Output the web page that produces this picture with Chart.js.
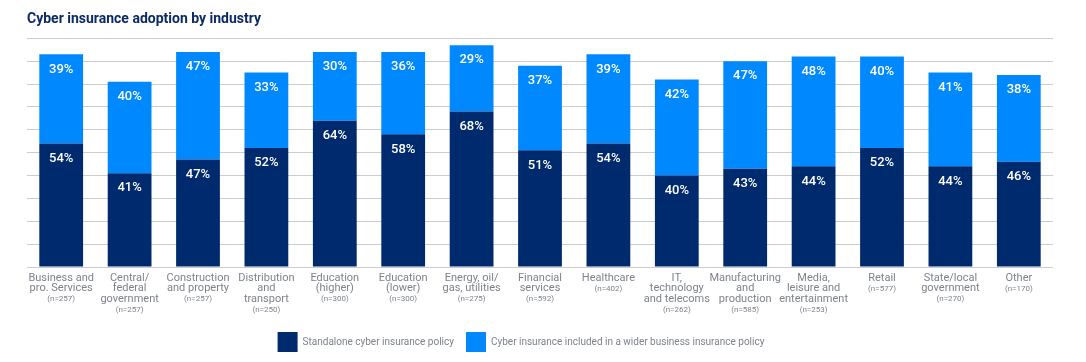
<!DOCTYPE html>
<html>
<head>
<meta charset="utf-8">
<script src="https://cdn.jsdelivr.net/npm/chart.js@4.4.1/dist/chart.umd.min.js"></script>
<style>
  html, body { margin: 0; padding: 0; background: #fff; }
  #wrap { width: 1086px; height: 362px; }
</style>
</head>
<body>
<div id="wrap"><canvas id="chart"></canvas></div>
<script>
// Categories (each label split into its printed lines) and sample sizes
const industries = [
    ['Business and', 'pro. Services'],
    ['Central/', 'federal', 'government'],
    ['Construction', 'and property'],
    ['Distribution', 'and', 'transport'],
    ['Education', '(higher)'],
    ['Education', '(lower)'],
    ['Energy, oil/', 'gas, utilities'],
    ['Financial', 'services'],
    ['Healthcare'],
    ['IT,', 'technology', 'and telecoms'],
    ['Manufacturing', 'and', 'production'],
    ['Media,', 'leisure and', 'entertainment'],
    ['Retail'],
    ['State/local', 'government'],
    ['Other']
];
const sampleSizes = [257, 257, 257, 250, 300, 300, 275, 592, 402, 262, 585, 253, 577, 270, 170];

// Percentages per series
const standalone = [54, 41, 47, 52, 64, 58, 68, 51, 54, 40, 43, 44, 52, 44, 46];
const included   = [39, 40, 47, 33, 30, 36, 29, 37, 39, 42, 47, 48, 40, 41, 38];

const seriesNames = ['Standalone cyber insurance policy', 'Cyber insurance included in a wider business insurance policy'];

const navy = '#002a6e';
const blue = '#0089ff';
const grey = '#7d828c';

// white % labels near the top of each segment
const barLabels = {
    id: 'barLabels',
    afterDatasetsDraw(chart) {
        const ctx = chart.ctx;
        ctx.save();
        ctx.fillStyle = '#fff';
        ctx.font = '500 13px Roboto';
        ctx.textAlign = 'center';
        ctx.textBaseline = 'middle';
        chart.data.datasets.forEach((ds, i) => {
            chart.getDatasetMeta(i).data.forEach((bar, j) => {
                ctx.fillText(ds.data[j] + '%', bar.x, bar.y + 15);
            });
        });
        ctx.restore();
    }
};

// category labels with a smaller sample-size line underneath
const categoryLabels = {
    id: 'categoryLabels',
    afterDraw(chart) {
        const ctx = chart.ctx;
        const x = chart.scales.x;
        const top = chart.chartArea.bottom + 11;
        const lineH = 10.6;
        ctx.save();
        ctx.fillStyle = grey;
        ctx.textAlign = 'center';
        ctx.textBaseline = 'middle';
        industries.forEach((lines, i) => {
            const cx = x.getPixelForTick(i);
            ctx.font = '11px Roboto';
            lines.forEach((t, k) => ctx.fillText(t, cx, top + k * lineH));
            ctx.font = '8px Roboto';
            ctx.fillText('(n=' + sampleSizes[i] + ')', cx, top + lines.length * lineH);
        });
        ctx.restore();
    }
};

// nudge the legend a little to the left like the original
const legendShift = {
    id: 'legendShift',
    afterLayout(chart) {
        chart.legend.left -= 19;
        chart.legend.right -= 19;
    }
};

new Chart(document.getElementById('chart'), {
    type: 'bar',
    data: {
        labels: industries.map(l => l.join(' ')),
        datasets: [
            { label: seriesNames[0], data: standalone, backgroundColor: navy },
            { label: seriesNames[1], data: included, backgroundColor: blue }
        ]
    },
    options: {
        responsive: true,
        maintainAspectRatio: false,
        animation: false,
        layout: { padding: { left: 27, right: 33, top: 0, bottom: 0 } },
        datasets: { bar: { categoryPercentage: 1, barPercentage: 0.64 } },
        scales: {
            x: {
                stacked: true,
                grid: { display: false },
                border: { display: false },
                ticks: { display: false },
                afterFit: s => { s.height = 53; }
            },
            y: {
                stacked: true,
                min: 0,
                max: 100,
                ticks: { display: false, stepSize: 10 },
                grid: { color: '#cbcbd0', drawTicks: false },
                border: { display: false }
            }
        },
        plugins: {
            title: {
                display: true,
                text: 'Cyber insurance adoption by industry',
                align: 'start',
                color: '#0b2a64',
                font: { family: 'Roboto', size: 14, weight: 'bold' },
                padding: { top: 11.5, bottom: 10 }
            },
            legend: {
                position: 'bottom',
                labels: {
                    boxWidth: 20,
                    boxHeight: 20,
                    padding: 12,
                    color: grey,
                    font: { family: 'Roboto', size: 10 }
                }
            },
            tooltip: { enabled: false }
        }
    },
    plugins: [barLabels, categoryLabels, legendShift]
});
</script>
</body>
</html>
